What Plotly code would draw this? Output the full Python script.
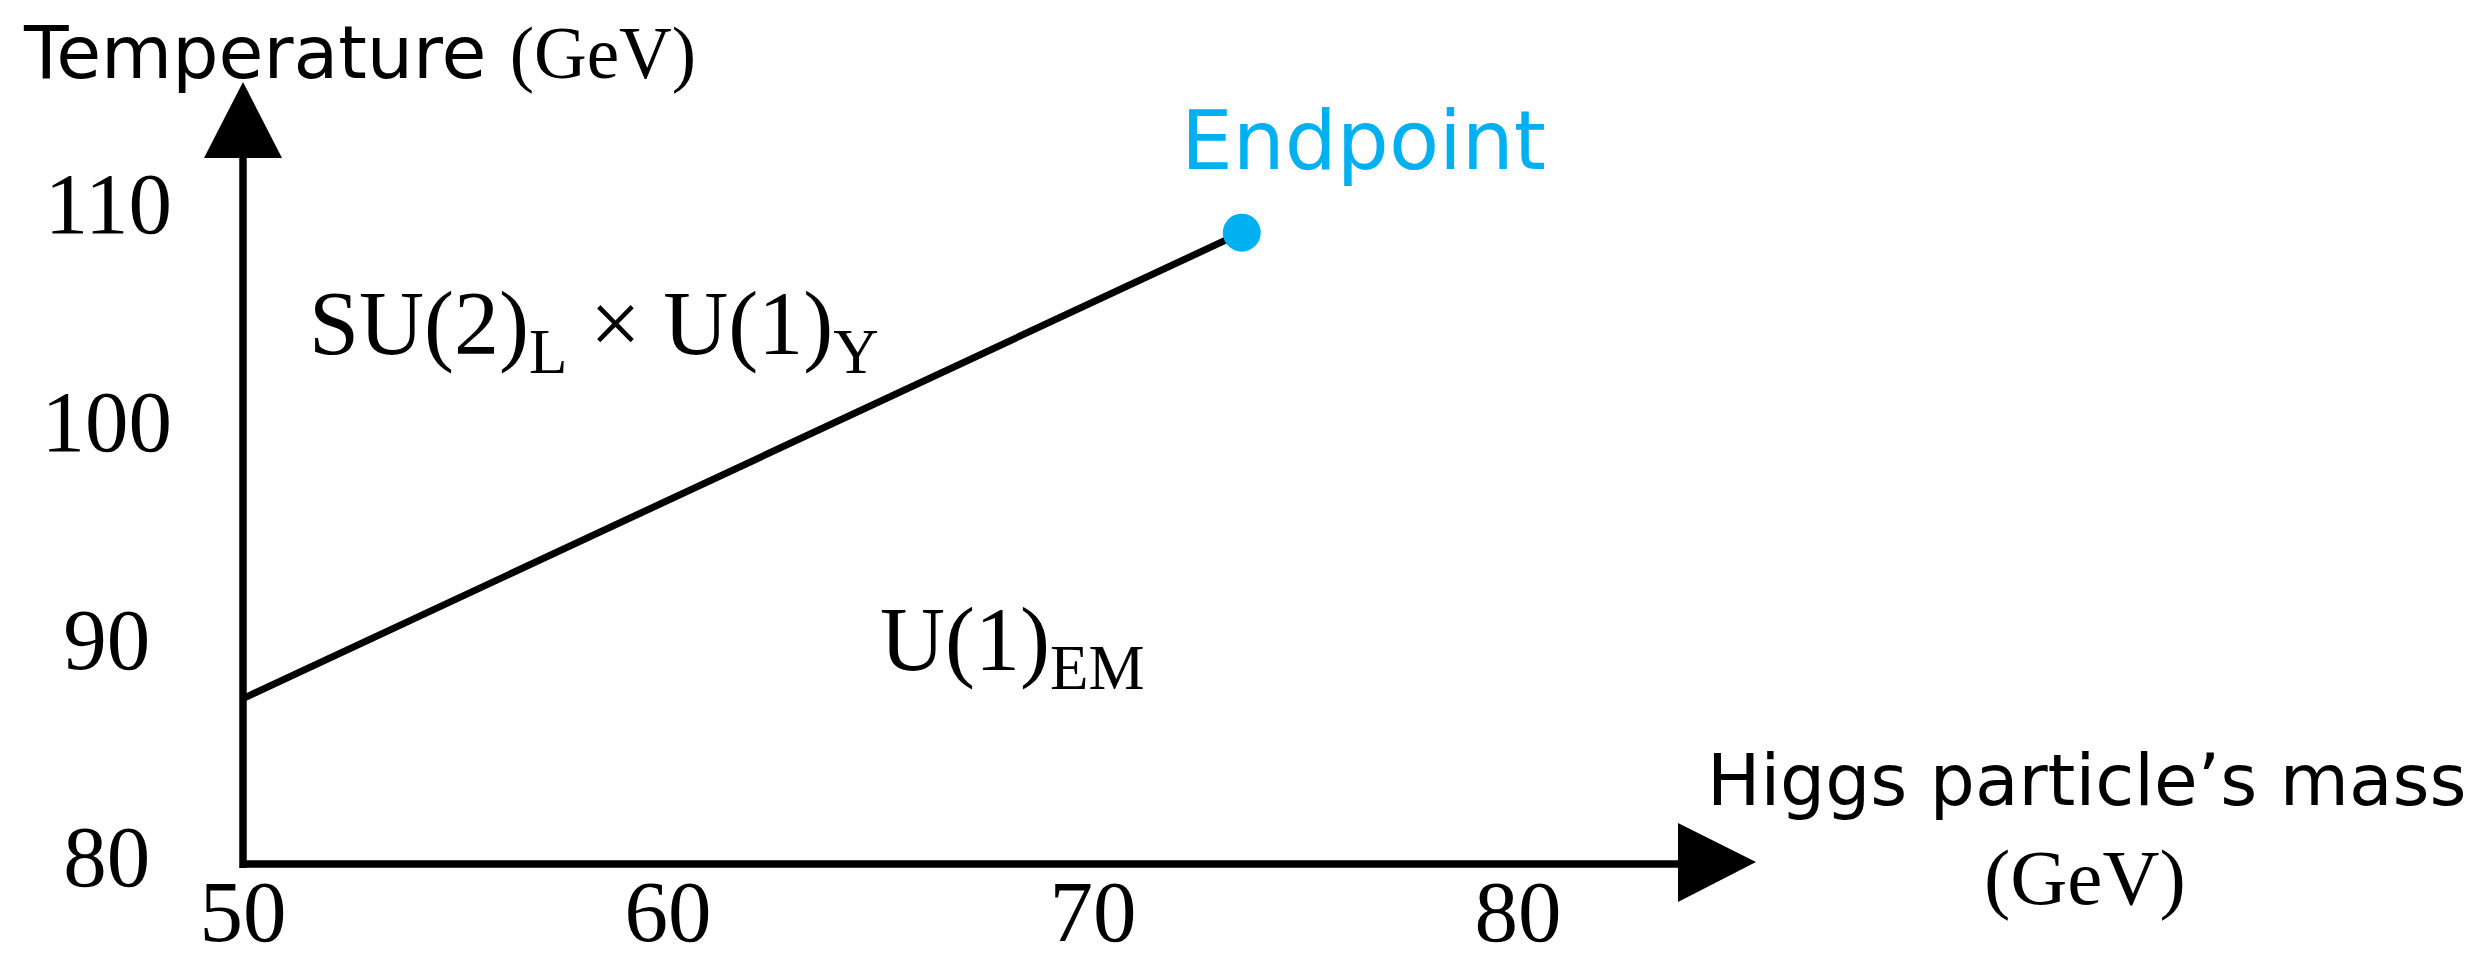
import plotly.graph_objects as go

# ---------------- data ----------------
higgs_mass = [50.0, 73.5]        # GeV, phase boundary line
temperature = [87.6, 109.0]      # GeV
endpoint_mass = [73.5]
endpoint_temp = [109.0]
x_ticks = [50, 60, 70, 80]
x_tick_labels = ["50", "60", "70", "80"]
y_ticks = [80, 90, 100, 110]
y_tick_labels = ["80\u00a0", "90\u00a0", "100", "110"]
phase_names = ["SU(2)<sub>L</sub> × U(1)<sub>Y</sub>", "U(1)<sub>EM</sub>"]
phase_pos = [(58.25, 104.5), (68.1, 90.0)]
endpoint_label = "Endpoint"

# ---------------- layout geometry ----------------
# The page body adds an 8px margin, so the figure is drawn 8px in from the
# window corner; all target positions below are given in window pixels.
OFF = 8
W, H = 2476 - OFF, 964 - OFF
L, R, T, B = 243 - OFF, 1678 - OFF, 158 - OFF, 864 - OFF
SX, SY = 42.5, 21.77
x_range = [50, 50 + (R - L) / SX]
y_range = [80, 80 + (B - T) / SY]


def px(xs):
    return (xs - OFF - L) / (R - L)


def py(ys):
    return (B - (ys - OFF)) / (B - T)


SERIF = "Liberation Serif"
SANS = "DejaVu Sans"
BLUE = "#00B0F0"

fig = go.Figure()

fig.add_trace(go.Scatter(x=higgs_mass, y=temperature, mode="lines",
                         line=dict(color="black", width=7),
                         showlegend=False, hoverinfo="skip"))
fig.add_trace(go.Scatter(x=endpoint_mass, y=endpoint_temp, mode="markers",
                         marker=dict(color=BLUE, size=38, line=dict(width=0)),
                         cliponaxis=False, showlegend=False, hoverinfo="skip"))

shapes = [
    # y axis
    dict(type="line", xref="paper", yref="paper", x0=0, x1=0, y0=py(868), y1=1.0,
         line=dict(color="black", width=7.5)),
    # x axis
    dict(type="line", xref="paper", yref="paper", x0=px(240), x1=1.0, y0=0, y1=0,
         line=dict(color="black", width=7.5)),
    # y arrow head
    dict(type="path", xref="paper", yref="paper",
         path=f"M {px(204)},{py(158)} L {px(282)},{py(158)} L {px(243)},{py(82)} Z",
         fillcolor="black", line=dict(width=0)),
    # x arrow head
    dict(type="path", xref="paper", yref="paper",
         path=f"M {px(1678)},{py(823)} L {px(1678)},{py(902)} L {px(1756)},{py(862)} Z",
         fillcolor="black", line=dict(width=0)),
]

annotations = []
for name, (xx, yy) in zip(phase_names, phase_pos):
    annotations.append(dict(x=xx, y=yy, xref="x", yref="y", text=name, showarrow=False,
                            font=dict(family=SERIF, size=90, color="black"),
                            xanchor="center", yanchor="middle"))

annotations.append(dict(x=px(1363), y=py(141), xref="paper", yref="paper", text=endpoint_label,
                        showarrow=False, font=dict(family=SANS, size=82, color=BLUE),
                        xanchor="center", yanchor="middle"))

annotations.append(dict(x=px(22), y=py(OFF + 1), xref="paper", yref="paper",
                        text=f"Temperature <span style=\"font-family:{SERIF};font-size:73px\">(GeV)</span>",
                        showarrow=False, font=dict(family=SANS, size=73, color="black"),
                        xanchor="left", yanchor="top", borderpad=0))

annotations.append(dict(x=px(2086), y=py(780), xref="paper", yref="paper",
                        text="Higgs particle’s mass", showarrow=False,
                        font=dict(family=SANS, size=71, color="black"),
                        xanchor="center", yanchor="middle"))
annotations.append(dict(x=px(2085), y=py(877), xref="paper", yref="paper",
                        text="(GeV)", showarrow=False,
                        font=dict(family=SERIF, size=79, color="black"),
                        xanchor="center", yanchor="middle"))

fig.update_layout(
    width=W, height=H,
    margin=dict(l=L, r=W - R, t=T, b=H - B, pad=0, autoexpand=False),
    paper_bgcolor="white", plot_bgcolor="white",
    shapes=shapes, annotations=annotations,
    xaxis=dict(range=x_range, tickvals=x_ticks, ticktext=x_tick_labels,
               showgrid=False, zeroline=False, showline=False, ticks="",
               automargin=False,
               tickfont=dict(family=SERIF, size=87, color="black"),
               ticklabelstandoff=-11),
    yaxis=dict(range=y_range, tickvals=y_ticks, ticktext=y_tick_labels,
               showgrid=False, zeroline=False, showline=False, ticks="",
               automargin=False,
               tickfont=dict(family=SERIF, size=87, color="black"),
               ticklabelstandoff=70, ticklabelshift=-8),
)

fig.write_html("out.html")
